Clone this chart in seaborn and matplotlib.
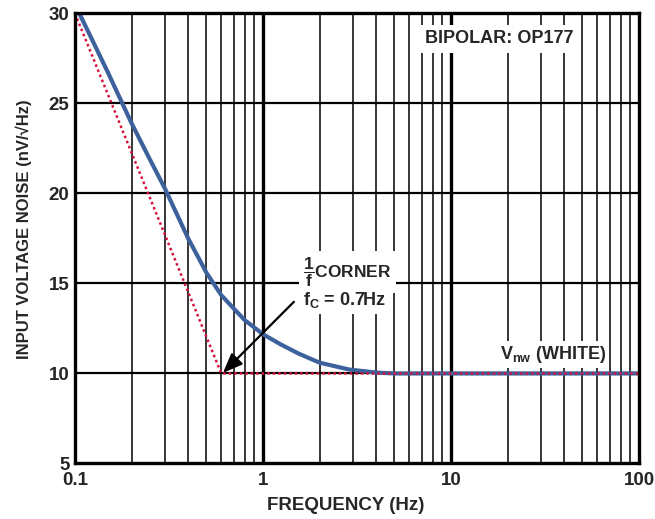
import numpy as np
import pandas as pd
import matplotlib
matplotlib.use("Agg")
import matplotlib.pyplot as plt
import seaborn as sns

# Measured noise curve (Hz, nV/rtHz)
freq = [0.1, 0.12, 0.15, 0.2, 0.25, 0.3, 0.35, 0.4, 0.45, 0.5, 0.6, 0.7, 0.8, 0.9,
        1.0, 1.25, 1.55, 2.0, 2.87, 4.0, 5.0, 10.0, 100.0]
noise = [30.5, 28.8, 26.7, 23.9, 21.9, 20.3, 18.8, 17.5, 16.5, 15.6, 14.35, 13.6, 12.96, 12.55,
         12.18, 11.6, 11.1, 10.6, 10.22, 10.05, 10.0, 10.0, 10.0]

# Asymptote lines (1/f and white)
asym_freq = [0.1, 0.6, 100.0]
asym_noise = [30.0, 10.0, 10.0]

x_ticks = [0.1, 1, 10, 100]
x_tick_labels = ["0.1", "1", "10", "100"]
y_ticks = [5, 10, 15, 20, 25, 30]

sns.set_theme(style="white")
plt.rcParams['font.family'] = ['Liberation Sans', 'DejaVu Sans']
plt.rcParams['mathtext.fontset'] = 'custom'
plt.rcParams['mathtext.rm'] = 'Liberation Sans:bold'
plt.rcParams['mathtext.it'] = 'Liberation Sans:bold'
plt.rcParams['mathtext.bf'] = 'Liberation Sans:bold'

fig = plt.figure(figsize=(6.55, 5.19), dpi=100)
ax = fig.add_axes([0.1145, 0.107, 0.9756 - 0.1145, 0.974 - 0.107])

ax.set_xscale("log")
ax.set_xlim(0.1, 100)
ax.set_ylim(5, 30)

# grid
for dec in [0.1, 1, 10]:
    for m in range(2, 10):
        ax.axvline(dec * m, color="black", lw=1.1, zorder=1)
for v in [1, 10]:
    ax.axvline(v, color="black", lw=2.4, zorder=1)
for yv in [10, 15, 20, 25]:
    ax.axhline(yv, color="black", lw=1.6, zorder=1)

df = pd.DataFrame({"f": freq, "n": noise})
da = pd.DataFrame({"f": asym_freq, "n": asym_noise})
sns.lineplot(data=df, x="f", y="n", ax=ax, color="#3d619c", lw=3, zorder=3)
sns.lineplot(data=da, x="f", y="n", ax=ax, color="#d6103c", lw=1.8, ls=(0, (1, 1.2)), zorder=4)

ax.set_xticks(x_ticks)
ax.set_xticklabels(x_tick_labels)
ax.xaxis.set_minor_locator(matplotlib.ticker.NullLocator())
ax.set_yticks(y_ticks)
ax.tick_params(axis="y", length=0, labelsize=13.5, pad=4)
ax.tick_params(axis="x", length=0, labelsize=13.5, pad=6)
for lab in ax.get_xticklabels() + ax.get_yticklabels():
    lab.set_fontweight("bold")

for s in ax.spines.values():
    s.set_color("black")
    s.set_linewidth(2.4)
    s.set_zorder(5)

ax.set_xlabel("FREQUENCY (Hz)", fontsize=13.5, fontweight="bold")
ax.xaxis.set_label_coords(0.4805, -0.075)
ax.set_ylabel("INPUT VOLTAGE NOISE (nV/\u221aHz)", fontsize=12, fontweight="bold")
ax.yaxis.set_label_coords(-0.077, 0.521)

ax.text(7.3, 28.6, "BIPOLAR: OP177", fontsize=13, fontweight="bold", ha="left", va="center",
        bbox=dict(facecolor="white", edgecolor="none", pad=4), zorder=6)
ax.text(18.2, 11.05, r"V$_{\mathbf{nw}}$ (WHITE)", fontsize=13, fontweight="bold", ha="left",
        va="center", bbox=dict(facecolor="white", edgecolor="none", pad=2), zorder=6)

ax.text(1.63, 15.63, r"$\dfrac{1}{f}$CORNER", fontsize=12.5, fontweight="bold", ha="left", va="center",
        bbox=dict(facecolor="white", edgecolor="none", pad=3), zorder=6)
ax.text(1.63, 14.1, r"f$_\mathbf{C}$ = 0.7Hz", fontsize=13, fontweight="bold", ha="left", va="center",
        bbox=dict(facecolor="white", edgecolor="none", pad=3), zorder=6)

ax.annotate("", xy=(0.612, 10.03), xytext=(1.46, 13.98),
            arrowprops=dict(arrowstyle="-|>,head_length=1.0,head_width=0.4", color="black", lw=1.6,
                            shrinkA=0, shrinkB=0), zorder=7)

fig.savefig("out.png", dpi=100)
